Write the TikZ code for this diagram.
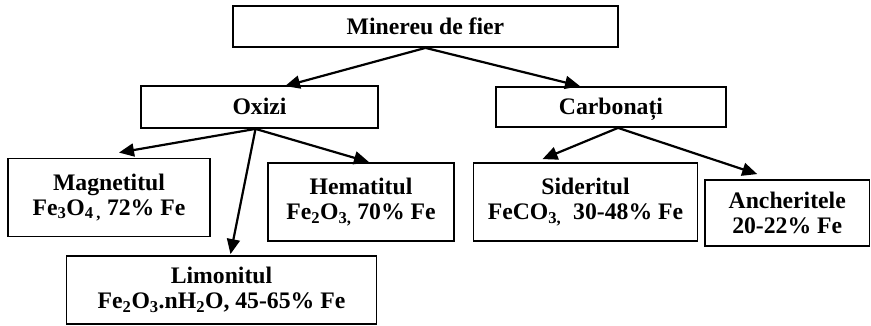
\documentclass[tikz,border=0pt]{standalone}
\usepackage{fontspec}
\setmainfont{Liberation Serif}
\usetikzlibrary{
    arrows.meta,
    calc
}

\begin{document}
\begin{tikzpicture}[
    x=1pt, y=-1pt,
    box/.style={rectangle, draw, line width=1.8pt, inner sep=0pt, align=center, font=\fontsize{23.7}{25}\selectfont\bfseries},
    single/.style={box, text height=19pt, text depth=3pt},
    arrow/.style={-{Triangle[length=15pt, width=13pt]}, line width=2.2pt}
]
\fill[white] (0,0) rectangle (871,326);
\useasboundingbox (0,0) rectangle (871,326);

% Root
\node[single, minimum width=385pt, minimum height=41pt] (minereu) at (425.5,26.5) {Minereu de fier};

% Second level
\node[single, minimum width=237pt, minimum height=42pt] (oxizi) at (259.5,107) {Oxizi};
\node[single, minimum width=230pt, minimum height=40pt] (carbonati) at (611,107) {Carbonați};

\draw[arrow] (minereu.south) -- ($(oxizi.north)+(25.5,1)$);
\draw[arrow] (minereu.south) -- ($(carbonati.north)+(-31,0)$);

% Oxides
\node[box, minimum width=202pt, minimum height=78pt] (magnetit) at (109,197.5) {Magnetitul\\Fe\textsubscript{3}O\textsubscript{4}\textsubscript{\,,} 72\% Fe};
\node[box, minimum width=186pt, minimum height=78pt] (hematit) at (361,202) {Hematitul\\Fe\textsubscript{2}O\textsubscript{3,} 70\% Fe};
\node[box, minimum width=310pt, minimum height=68pt] (limonit) at (221.5,290) {Limonitul\\Fe\textsubscript{2}O\textsubscript{3}.nH\textsubscript{2}O, 45-65\% Fe};

\coordinate (oxizi-b) at ($(oxizi.south)+(-4,0)$);
\draw[arrow] (oxizi-b) -- ($(magnetit.north)+(10,-5)$);
\draw[arrow] (oxizi-b) -- ($(hematit.north)+(8,0)$);
\draw[arrow] (oxizi-b) -- ($(limonit.north)+(9,-1)$);

% Carbonates
\node[box, minimum width=224pt, minimum height=78pt] (siderit) at (585.5,202) {Sideritul\\FeCO\textsubscript{3,}\ \ 30-48\% Fe};
\node[box, minimum width=164.5pt, minimum height=66pt] (ankerit) at (787.25,213) {Ancheritele\\20-22\% Fe};

\coordinate (carbonati-b) at ($(carbonati.south)+(7,0)$);
\draw[arrow] (carbonati-b) -- ($(siderit.north)+(-43,-3)$);
\draw[arrow] (carbonati-b) -- ($(ankerit.north)+(-30,-5)$);

\end{tikzpicture}
\end{document}
